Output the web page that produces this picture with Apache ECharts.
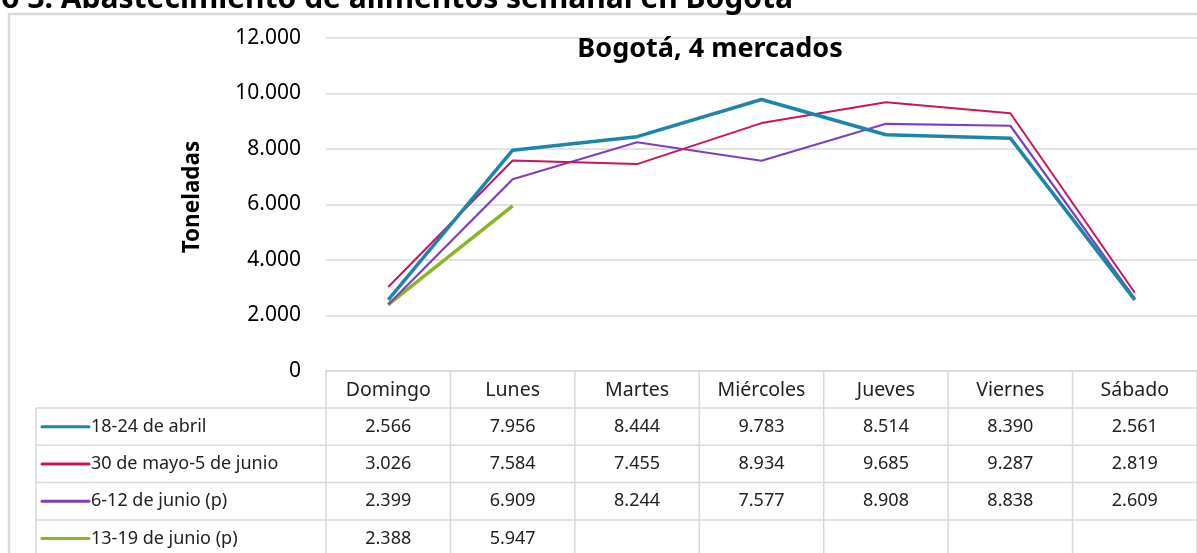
<!DOCTYPE html>
<html>
<head>
<meta charset="utf-8">
<title>Abastecimiento de alimentos semanal en Bogotá</title>
<script src="https://cdn.jsdelivr.net/npm/echarts@6/dist/echarts.min.js"></script>
<style>
  html, body { margin: 0; padding: 0; background: #fff; }
  #chart { width: 1197px; height: 553px; }
</style>
</head>
<body>
<div id="chart"></div>
<script>
// datos
var dias = ['Domingo', 'Lunes', 'Martes', 'Miércoles', 'Jueves', 'Viernes', 'Sábado'];
var semanas = ['18-24 de abril', '30 de mayo-5 de junio', '6-12 de junio (p)', '13-19 de junio (p)'];
var abril18 = [2566, 7956, 8444, 9783, 8514, 8390, 2561];
var mayo30 = [3026, 7584, 7455, 8934, 9685, 9287, 2819];
var junio6 = [2399, 6909, 8244, 7577, 8908, 8838, 2609];
var junio13 = [2388, 5947];
var ticksY = [0, 2000, 4000, 6000, 8000, 10000, 12000];

var colores = ['#1c85a8', '#c8165c', '#7f3fbd', '#8ab526'];
var grosor = [3.5, 2, 2.2, 3.5];
var valores = [abril18, mayo30, junio6, junio13];

var fuente = '"Noto Sans", "Open Sans", sans-serif';
var gris = '#d9d9d9';

// miles con punto
function miles(v) {
	return String(v).replace(/\B(?=(\d{3})+(?!\d))/g, '.');
}

var chart = echarts.init(document.getElementById('chart'), null, { renderer: 'canvas' });

var series = valores.map(function(d, i) {
	return {
		name : semanas[i],
		type : 'line',
		data : d,
		symbol : 'none',
		lineStyle : { color : colores[i], width : grosor[i] },
		itemStyle : { color : colores[i] },
		z : 10 - i
	};
});

var option = {
	animation : false,
	grid : { left : 326, right : 0, top : 38, bottom : 182 },
	xAxis : {
		type : 'category',
		data : dias,
		axisLine : { lineStyle : { color : gris, width : 1.5 } },
		axisTick : { show : false },
		axisLabel : {
			color : '#222', fontFamily : fuente, fontSize : 19.5,
			verticalAlign : 'middle', margin : 19
		}
	},
	yAxis : {
		type : 'value',
		min : 0,
		max : ticksY[ticksY.length - 1],
		interval : 2000,
		axisLine : { show : false },
		axisTick : { show : false },
		splitLine : { lineStyle : { color : gris, width : 1.5 } },
		axisLabel : {
			color : '#000', fontFamily : fuente, fontSize : 21, margin : 25,
			formatter : function(v) { return miles(v); }
		}
	},
	title : {
		text : 'Bogotá, 4 mercados',
		left : 705, top : 31,
		textAlign : 'center',
		textStyle : { fontFamily : fuente, fontWeight : 'bold', fontSize : 27, color : '#000' }
	},
	series : series
};
chart.setOption(option);

// tabla de datos debajo del grafico
var g = [];
var x0 = 326, x1 = 1197, yHead = 371, yTabla = 408, altoFila = 37.3, xLeyenda = 36;
var anchoCol = (x1 - x0) / dias.length;

g.push({ type : 'rect', shape : { x : 9, y : 14, width : 1220, height : 580 },
	style : { fill : 'none', stroke : gris, lineWidth : 2.5 }, silent : true });

g.push({ type : 'text', x : 793, y : 14, style : {
	text : 'Gráfico 3. Abastecimiento de alimentos semanal en Bogotá',
	fontFamily : fuente, fontWeight : 'bold', fontSize : 30, fill : '#000',
	align : 'right', verticalAlign : 'bottom' } });

g.push({ type : 'text', x : 193, y : 197, rotation : Math.PI / 2, style : {
	text : 'Toneladas', fontFamily : fuente, fontWeight : 'bold', fontSize : 22.5, fill : '#000',
	align : 'center', verticalAlign : 'middle' } });

for (var c = 0; c <= dias.length; c++) {
	var xc = x0 + c * anchoCol;
	g.push({ type : 'line', shape : { x1 : xc, y1 : yHead, x2 : xc, y2 : 560 },
		style : { stroke : gris, lineWidth : 1.5 } });
}
g.push({ type : 'line', shape : { x1 : xLeyenda, y1 : yTabla, x2 : xLeyenda, y2 : 560 },
	style : { stroke : gris, lineWidth : 1.5 } });

semanas.forEach(function(s, r) {
	var yTop = yTabla + r * altoFila;
	var yMid = yTop + altoFila / 2;
	g.push({ type : 'line', shape : { x1 : xLeyenda, y1 : yTop, x2 : x1, y2 : yTop },
		style : { stroke : gris, lineWidth : 1.5 } });
	g.push({ type : 'line', shape : { x1 : 42, y1 : yMid, x2 : 89, y2 : yMid },
		style : { stroke : colores[r], lineWidth : 3, lineCap : 'round' } });
	g.push({ type : 'text', x : 91, y : yMid, style : {
		text : s, fontFamily : fuente, fontSize : 18, fill : '#222',
		align : 'left', verticalAlign : 'middle' } });
	valores[r].forEach(function(v, i) {
		var px = chart.convertToPixel({ xAxisIndex : 0 }, dias[i]);
		g.push({ type : 'text', x : px, y : yMid, style : {
			text : miles(v), fontFamily : fuente, fontSize : 18, fill : '#222',
			align : 'center', verticalAlign : 'middle' } });
	});
});

chart.setOption({ graphic : { elements : g } });
</script>
</body>
</html>
